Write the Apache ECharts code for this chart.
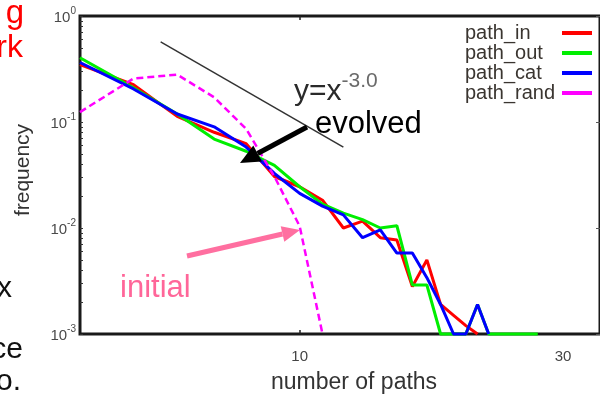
<!DOCTYPE html>
<html>
<head>
<meta charset="utf-8">
<script src="https://cdn.jsdelivr.net/npm/echarts@6/dist/echarts.min.js"></script>
<style>
  html, body { margin: 0; padding: 0; background: #fff; }
  #chart { width: 600px; height: 399px; }
</style>
</head>
<body>
<div id="chart"></div>
<script>
// number of paths (x), shared by every series
const numPaths = [4, 5, 6, 7, 8, 9, 10, 11, 12, 13, 14, 15, 16, 17, 18, 19, 20, 21, 22, 23, 24, 25, 26, 27];

// frequency of each path count; 0.001 marks an empty bin (axis floor)
const pathIn   = [0.348, 0.225, 0.113, 0.080, 0.0625, 0.0306, 0.0245, 0.0183, 0.0100, 0.0116, 0.0081, 0.0077, 0.0028, 0.0050, 0.0019, 0.0015, 0.0012, 0.001];
const pathOut  = [0.404, 0.21, 0.119, 0.069, 0.053, 0.039, 0.0245, 0.0168, 0.0138, 0.0120, 0.0100, 0.0105, 0.0029, 0.0029, 0.001, 0.001, 0.001, 0.0019, 0.001, 0.001, 0.001, 0.001, 0.001, 0.001];
const pathCat  = [0.364, 0.205, 0.119, 0.090, 0.058, 0.0327, 0.0212, 0.0161, 0.0133, 0.0081, 0.0096, 0.0058, 0.0058, 0.0034, 0.0019, 0.001, 0.001, 0.0019, 0.001];
const pathRand = [0.124, 0.257, 0.28, 0.171, 0.086, 0.0306, 0.0104, 0.001];

// power-law guide y = x^-3.0 (end points)
const guideX = [5.6, 12];
const guideY = [0.57, 0.058];

const seriesNames = ['path_in', 'path_out', 'path_cat', 'path_rand'];
const seriesColors = ['#ff0000', '#00ee00', '#0000ff', '#ff00ff'];

const xTickLabels = [10, 30];
const yMinorTicks = [];
[0.001, 0.01, 0.1].forEach(d => { for (let k = 1; k <= 9; k++) yMinorTicks.push(+(k * d).toPrecision(3)); });
yMinorTicks.push(1);

function pairs(vals) { return vals.map((v, i) => [numPaths[i], v]); }
const supMap = { '1': '0', '0.1': '-1', '0.01': '-2', '0.001': '-3' };
const FONT = '"Liberation Sans", Arial, sans-serif';

const chart = echarts.init(document.getElementById('chart'), null, { renderer: 'canvas' });

const lineSeries = [pathIn, pathOut, pathCat, pathRand].map((vals, i) => ({
  name: seriesNames[i],
  type: 'line',
  data: pairs(vals),
  showSymbol: false,
  symbol: 'none',
  clip: false,
  color: seriesColors[i],
  lineStyle: i === 3
    ? { color: seriesColors[i], width: 2.5, type: [7, 4] }
    : { color: seriesColors[i], width: 3 },
  z: 3 + i,
  animation: false
}));

lineSeries.unshift({
  name: 'guide',
  type: 'line',
  data: guideX.map((x, i) => [x, guideY[i]]),
  symbol: 'none',
  clip: false,
  lineStyle: { color: '#333', width: 1.5 },
  z: 2,
  silent: true,
  animation: false
});

chart.setOption({
  animation: false,
  backgroundColor: '#fff',
  grid: {
    left: 80, top: 16, right: -3, bottom: 62,
    show: true, borderColor: '#1a1a1a', borderWidth: 3, backgroundColor: 'transparent'
  },
  legend: {
    data: seriesNames,
    orient: 'vertical',
    right: 8, top: 23, padding: 0,
    align: 'right',
    icon: 'rect',
    itemWidth: 30, itemHeight: 4,
    itemGap: 0,
    formatter: '{n|{name}}',
    textStyle: {
      rich: { n: { width: 92, align: 'left', fontSize: 20, lineHeight: 20, fontFamily: FONT, color: '#3a3530' } }
    }
  },
  xAxis: [{
    type: 'log', logBase: 10, min: 4, max: 35,
    name: 'number of paths', nameLocation: 'middle', nameGap: 37,
    nameTextStyle: { fontSize: 23, color: '#333', fontFamily: FONT, padding: [0, 0, 0, 28] },
    axisLine: { show: false },
    axisTick: { show: true, inside: true, length: 4, customValues: [10], lineStyle: { color: '#222', width: 1.5 } },
    axisLabel: { customValues: xTickLabels, fontSize: 15, color: '#444', margin: 15, fontFamily: FONT },
    splitLine: { show: false }
  }, {
    type: 'log', logBase: 10, min: 4, max: 35, position: 'top',
    axisLine: { show: false },
    axisTick: { show: true, inside: true, length: 4, customValues: [10], lineStyle: { color: '#222', width: 1.5 } },
    axisLabel: { show: false },
    splitLine: { show: false }
  }],
  yAxis: [{
    type: 'log', logBase: 10, min: 0.001, max: 1,
    name: 'frequency', nameLocation: 'middle', nameGap: 46, nameRotate: 90,
    nameTextStyle: { fontSize: 21, color: '#333', fontFamily: FONT, padding: [0, 0, 0, 10] },
    axisLine: { show: false },
    axisTick: { show: true, inside: true, length: 3, customValues: yMinorTicks, lineStyle: { color: '#333', width: 1 } },
    axisLabel: {
      margin: 4,
      formatter: v => '{b|10}{s|' + (supMap[String(+v.toPrecision(3))] || '') + '}',
      rich: {
        b: { fontSize: 15, color: '#4a4a4a', fontFamily: FONT, verticalAlign: 'bottom', lineHeight: 19 },
        s: { fontSize: 10, color: '#4a4a4a', fontFamily: FONT, verticalAlign: 'top', lineHeight: 19 }
      }
    },
    splitLine: { show: false }
  }, {
    type: 'log', logBase: 10, min: 0.001, max: 1, position: 'right',
    axisLine: { show: false },
    axisTick: { show: true, inside: true, length: 4, customValues: [0.001, 0.01, 0.1, 1], lineStyle: { color: '#555', width: 1 } },
    axisLabel: { show: false },
    splitLine: { show: false }
  }],
  series: lineSeries,
  graphic: [
    // clipped slide text at left margin
    { type: 'text', style: { text: 'g', x: 24, y: 14, font: '33px ' + FONT, fill: '#ff0000', align: 'right', verticalAlign: 'middle' } },
    { type: 'text', style: { text: 'rk', x: 23, y: 48, font: '32px ' + FONT, fill: '#ff0000', align: 'right', verticalAlign: 'middle' } },
    { type: 'text', style: { text: 'x', x: 12, y: 289, font: '30px ' + FONT, fill: '#111', align: 'right', verticalAlign: 'middle' } },
    { type: 'text', style: { text: 'ce', x: 23, y: 350, font: '30px ' + FONT, fill: '#111', align: 'right', verticalAlign: 'middle' } },
    { type: 'text', style: { text: 'o.', x: 21, y: 382, font: '30px ' + FONT, fill: '#111', align: 'right', verticalAlign: 'middle' } },
    // y = x^-3.0 label
    { type: 'text', style: {
        text: '{m|y=x}{e|-3.0}', x: 294, y: 89, verticalAlign: 'middle',
        rich: {
          m: { font: '30px ' + FONT, fill: '#2a2a2a', verticalAlign: 'bottom', lineHeight: 36 },
          e: { font: '21px ' + FONT, fill: '#6a6a6a', verticalAlign: 'top', lineHeight: 36 }
        }
      } },
    { type: 'text', style: { text: 'evolved', x: 315, y: 124, font: '31px ' + FONT, fill: '#000', verticalAlign: 'middle' } },
    { type: 'text', style: { text: 'initial', x: 120, y: 288, font: '31px ' + FONT, fill: '#ff6699', verticalAlign: 'middle' } },
    // black arrow pointing at the evolved curves
    { type: 'line', shape: { x1: 307, y1: 127, x2: 257.6, y2: 153.5 }, style: { stroke: '#000', lineWidth: 5 }, z: 20 },
    { type: 'polygon', shape: { points: [[240, 163], [261.9, 161.4], [253.3, 145.6]] }, style: { fill: '#000' }, z: 20 },
    // pink arrow pointing at the initial curve
    { type: 'line', shape: { x1: 187, y1: 256, x2: 282.5, y2: 234 }, style: { stroke: '#ff6fa0', lineWidth: 5 }, z: 20 },
    { type: 'polygon', shape: { points: [[300, 230], [284.3, 241.8], [280.7, 226.2]] }, style: { fill: '#ff6fa0' }, z: 20 }
  ]
});
</script>
</body>
</html>
